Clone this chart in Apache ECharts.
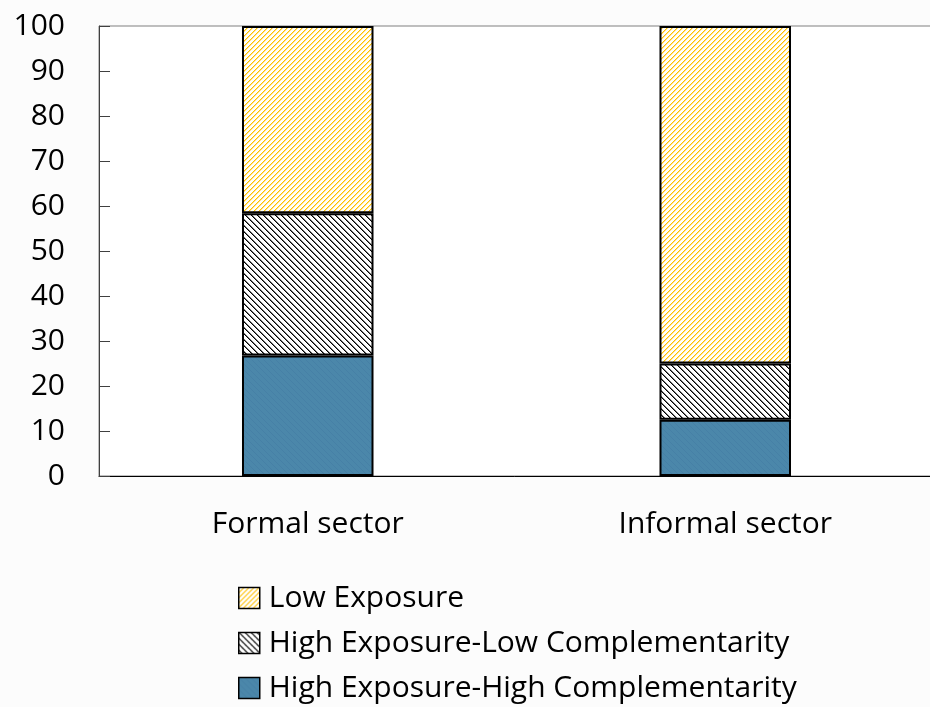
<!DOCTYPE html>
<html>
<head>
<meta charset="utf-8">
<script src="https://cdn.jsdelivr.net/npm/echarts@6/dist/echarts.min.js"></script>
<style>html,body{margin:0;padding:0;background:#fcfcfc;}#chart{width:930px;height:707px;}</style>
</head>
<body>
<div id="chart"></div>
<script>
const categories = ['Formal sector', 'Informal sector'];
const seriesNames = ['Low Exposure', 'High Exposure-Low Complementarity', 'High Exposure-High Complementarity'];
const highHigh = [26.8, 12.5];
const highLow = [31.6, 12.5];
const lowExp = [41.6, 75.0];
const yTicks = [0, 10, 20, 30, 40, 50, 60, 70, 80, 90, 100];

function makeTile(size, bg, draw) {
  const c = document.createElement('canvas');
  c.width = size; c.height = size;
  const g = c.getContext('2d');
  g.fillStyle = bg; g.fillRect(0, 0, size, size);
  draw(g, size);
  return c;
}
const yellowTile = makeTile(5, '#ffffff', (g, s) => {
  g.fillStyle = '#FFC000';
  for (let i = 0; i < s; i++) { g.fillRect(i, s - 1 - i, 1, 1); }
  g.fillStyle = 'rgba(255,192,0,0.45)';
  for (let i = 0; i < s; i++) { g.fillRect((i + 1) % s, s - 1 - i, 1, 1); }
});
const blackTile = makeTile(6, '#ffffff', (g, s) => {
  g.fillStyle = '#000000';
  for (let i = 0; i < s; i++) { g.fillRect(i, i, 1, 1); }
  g.fillStyle = 'rgba(0,0,0,0.55)';
  for (let i = 0; i < s; i++) { g.fillRect((i + 1) % s, i, 1, 1); }
});
const blueTile = makeTile(6, '#4B87AA', (g, s) => {
  g.fillStyle = '#4680A6';
  for (let i = 0; i < s; i++) { g.fillRect(i, i, 1, 1); }
});

const font = "'Open Sans', 'Noto Sans', sans-serif";
const chart = echarts.init(document.getElementById('chart'), null, { renderer: 'canvas' });

function barSeries(name, data, tile) {
  return {
    name: name, type: 'bar', stack: 'total', data: data,
    barWidth: '31.5%',
    itemStyle: { color: { image: tile, repeat: 'repeat' }, borderColor: '#000', borderWidth: 2 },
    emphasis: { disabled: true }
  };
}

chart.setOption({
  animation: false,
  backgroundColor: '#fcfcfc',
  textStyle: { fontFamily: font, color: '#000' },
  grid: { left: 99, right: -4, top: 26, bottom: 231, outerBoundsMode: 'none', containLabel: false,
    show: true, backgroundColor: '#ffffff', borderColor: '#808080', borderWidth: 1 },
  legend: {
    orient: 'vertical', left: 238, top: 583, height: 300, padding: 0,
    itemWidth: 21, itemHeight: 21, itemGap: 15,
    data: seriesNames,
    textStyle: { fontFamily: font, fontSize: 30, lineHeight: 30, color: '#000', padding: [0, 0, 0, 4] },
    icon: 'rect',
    itemStyle: { borderColor: '#000', borderWidth: 1.5 }
  },
  xAxis: {
    type: 'category', data: categories,
    axisLine: { lineStyle: { color: '#000', width: 1 } },
    axisTick: { inside: true, length: 11, alignWithLabel: false, lineStyle: { color: '#808080' } },
    axisLabel: { fontFamily: font, fontSize: 30, color: '#000', margin: 33 }
  },
  yAxis: {
    type: 'value', min: 0, max: 100, interval: 10,
    axisLine: { show: true, lineStyle: { color: '#404040', width: 1 } },
    axisTick: { show: true, inside: true, length: 11, lineStyle: { color: '#404040' } },
    splitLine: { show: false },
    axisLabel: { fontFamily: font, fontSize: 30, color: '#000', margin: 34,
      formatter: v => yTicks.includes(v) ? String(v) : '' }
  },
  series: [
    barSeries(seriesNames[2], highHigh, blueTile),
    barSeries(seriesNames[1], highLow, blackTile),
    barSeries(seriesNames[0], lowExp, yellowTile)
  ]
});
</script>
</body>
</html>
